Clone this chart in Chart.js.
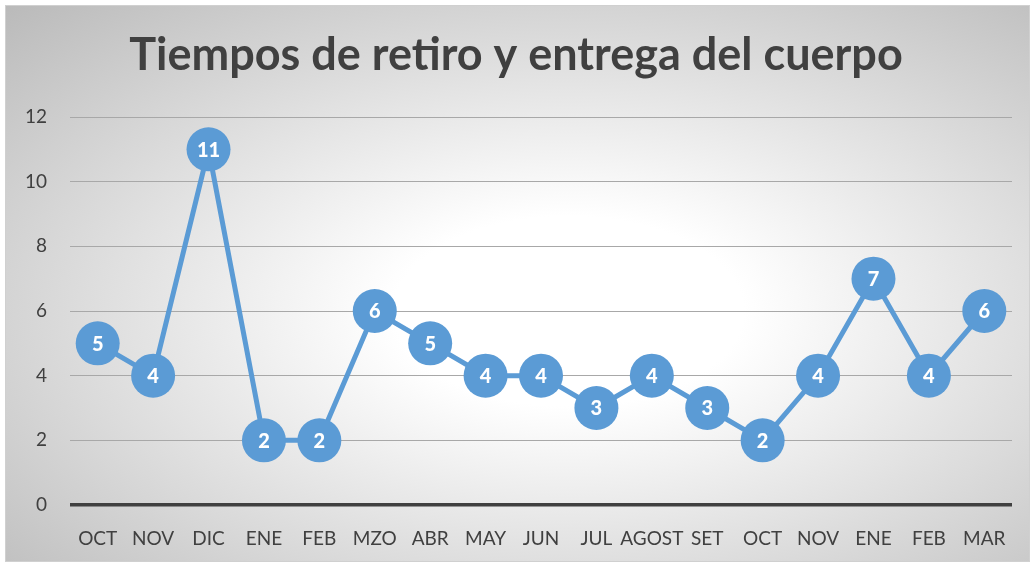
<!DOCTYPE html>
<html>
<head>
<meta charset="utf-8">
<script src="https://cdn.jsdelivr.net/npm/chart.js@4"></script>
<style>
  html, body { margin: 0; padding: 0; background: #fff; }
  .frame {
    position: absolute; left: 5px; top: 5px;
    width: 1023px; height: 555px;
    border: 1px solid #d0d0d0;
    background: radial-gradient(ellipse farthest-corner at 55% 55%, #ffffff 22%, #bababa 100%);
  }
  canvas { display: block; }
</style>
</head>
<body>
<div class="frame"><canvas id="l_chart" width="1023" height="555"></canvas></div>
<script>
  // categorias y valores
  let meses = ['OCT', 'NOV', 'DIC', 'ENE', 'FEB', 'MZO', 'ABR', 'MAY', 'JUN', 'JUL', 'AGOST', 'SET', 'OCT', 'NOV', 'ENE', 'FEB', 'MAR']
  let tiempos = [5, 4, 11, 2, 2, 6, 5, 4, 4, 3, 4, 3, 2, 4, 7, 4, 6]
  let yTicks = [0, 2, 4, 6, 8, 10, 12]

  let azul = '#5b9bd5'

  // etiquetas dentro de los circulos
  let etiquetas = {
    id: 'etiquetas',
    afterDatasetsDraw(chart) {
      let c = chart.ctx
      let meta = chart.getDatasetMeta(0)
      c.save()
      c.fillStyle = '#ffffff'
      c.font = '900 20px Lato'
      c.textAlign = 'center'
      c.textBaseline = 'middle'
      meta.data.forEach((pt, i) => {
        c.fillText(String(tiempos[i]), pt.x, pt.y + 1)
      })
      c.restore()
    }
  }

  let chartData = {
    labels: meses,
    datasets: [{
      data: tiempos,
      borderColor: azul,
      borderWidth: 5,
      pointRadius: 22,
      pointHoverRadius: 22,
      pointBackgroundColor: azul,
      pointBorderWidth: 0,
      clip: false,
      tension: 0
    }]
  }

  let chartOptions = {
    responsive: false,
    animation: false,
    layout: { autoPadding: false, padding: { left: 14, right: 17, top: 0, bottom: 0 } },
    plugins: {
      legend: { display: false },
      tooltip: { enabled: false },
      title: {
        display: true,
        text: 'Tiempos de retiro y entrega del cuerpo',
        color: '#404040',
        font: { family: 'Lato', size: 45, weight: 'bold', lineHeight: 1.2 },
        padding: { top: 22, bottom: 35 }
      }
    },
    scales: {
      x: {
        offset: true,
        grid: { display: false },
        border: { display: false },
        ticks: { color: '#404040', font: { family: 'Lato', size: 19 }, padding: 14, maxRotation: 0, autoSkip: false },
        afterFit: s => { s.height = 56 }
      },
      y: {
        min: 0,
        max: 12,
        afterBuildTicks: s => { s.ticks = yTicks.map(v => ({ value: v })) },
        border: { display: false },
        grid: {
          drawTicks: false,
          color: c => c.tick.value === 0 ? '#404040' : '#a8a8a8',
          lineWidth: c => c.tick.value === 0 ? 3.5 : 1
        },
        ticks: { color: '#404040', font: { family: 'Lato', size: 19 }, padding: 23 },
        afterFit: s => { s.width = 50 }
      }
    }
  }

  let ctx = document.getElementById('l_chart').getContext('2d')
  let myChart = new Chart(ctx, {
    type: 'line',
    data: chartData,
    options: chartOptions,
    plugins: [etiquetas]
  })
</script>
</body>
</html>
